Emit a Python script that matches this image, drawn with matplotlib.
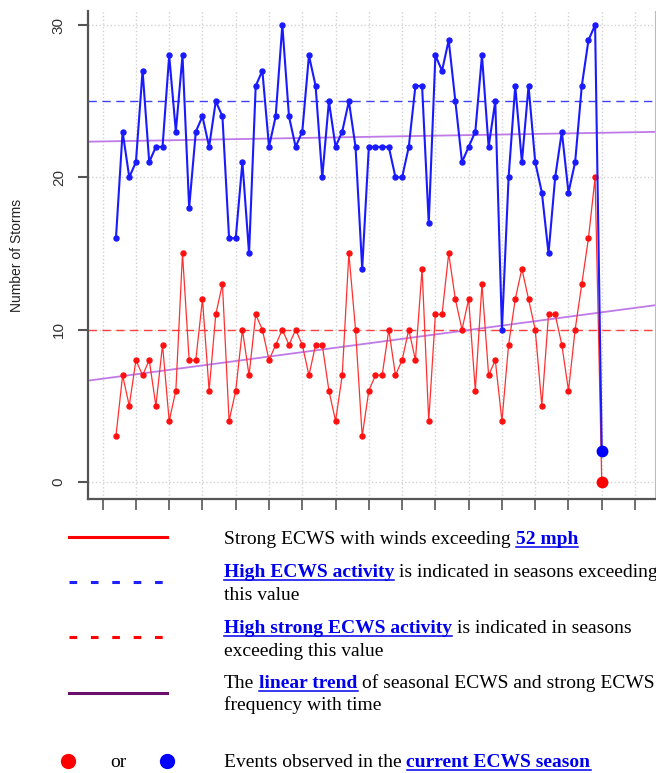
import numpy as np
import matplotlib
matplotlib.use("Agg")
import matplotlib.pyplot as plt
from matplotlib.lines import Line2D

# =====================================================
# Data (one value per season, last one = current season)
# =====================================================

all_storms = [16, 23, 20, 21, 27, 21, 22, 22, 28, 23,
              28, 18, 23, 24, 22, 25, 24, 16, 16, 21,
              15, 26, 27, 22, 24, 30, 24, 22, 23, 28,
              26, 20, 25, 22, 23, 25, 22, 14, 22, 22,
              22, 22, 20, 20, 22, 26, 26, 17, 28, 27,
              29, 25, 21, 22, 23, 28, 22, 25, 10, 20,
              26, 21, 26, 21, 19, 15, 20, 23, 19, 21,
              26, 29, 30]
strong_storms = [3, 7, 5, 8, 7, 8, 5, 9, 4, 6,
                 15, 8, 8, 12, 6, 11, 13, 4, 6, 10,
                 7, 11, 10, 8, 9, 10, 9, 10, 9, 7,
                 9, 9, 6, 4, 7, 15, 10, 3, 6, 7,
                 7, 10, 7, 8, 10, 8, 14, 4, 11, 11,
                 15, 12, 10, 12, 6, 13, 7, 8, 4, 9,
                 12, 14, 12, 10, 5, 11, 11, 9, 6, 10,
                 13, 16, 20]
current_all = 2
current_strong = 0

high_activity = 25
high_strong_activity = 10

# =====================================================
# Figure
# =====================================================

W, H = 656, 773
fig = plt.figure(figsize=(W / 100, H / 100), dpi=100)
ax = fig.add_axes([88 / W, 1 - 499 / H, (655 - 88) / W, (499 - 11) / H])

n = len(all_storms)
x = np.arange(n)
x_all = np.arange(n + 1)

xmin, xmax = -4.2, 81.0
ax.set_xlim(xmin, xmax)
ax.set_ylim(-1.12, 30.92)

# trends
xt = np.array([xmin, xmax])
pa = np.polyfit(x, all_storms, 1)
ps = np.polyfit(x, strong_storms, 1)
ax.plot(xt, np.polyval(pa, xt), color="#c07ae8", lw=1.3, zorder=2)
ax.plot(xt, np.polyval(ps, xt), color="#c07ae8", lw=1.3, zorder=2)

# thresholds
ax.axhline(high_activity, color="#4040ff", lw=1.0, ls=(0, (6, 4)), zorder=1)
ax.axhline(high_strong_activity, color="#ff4040", lw=1.0, ls=(0, (6, 4)), zorder=1)

# series
ax.plot(x_all, strong_storms + [current_strong], color="#ff3030", lw=0.9,
        marker="o", ms=3.6, mec="#ff1010", mfc="#ff1010", zorder=3)
ax.plot(x_all, all_storms + [current_all], color="#1a1aff", lw=1.5,
        marker="o", ms=3.6, zorder=4)
ax.plot(n, current_all, "o", color="#0000ff", ms=7.5, zorder=5)
ax.plot(n, current_strong, "o", color="#ff0000", ms=7.5, zorder=5)

# axes styling
ax.set_xticks(np.arange(-2, 80, 5))
ax.set_yticks([0, 10, 20, 30])
ax.set_xticklabels([])
ax.grid(True, color="#d2d2d2", ls=":", lw=1.0)
ax.set_axisbelow(True)
ax.spines["top"].set_visible(False)
ax.spines["right"].set_color("#bbbbbb")
ax.spines["left"].set_color("#555555")
ax.spines["bottom"].set_color("#555555")
ax.spines["left"].set_linewidth(1.6)
ax.spines["bottom"].set_linewidth(1.6)
ax.tick_params(axis="y", length=7, width=1.5, color="#555555", pad=9,
               labelsize=11, labelcolor="#333333")
ax.tick_params(axis="x", length=8, width=1.2, color="#555555")
for lab in ax.get_yticklabels():
    lab.set_rotation(90)
    lab.set_va("center")
    lab.set_family("Liberation Sans")
ax.set_ylabel("Number of Storms", fontsize=10, family="Liberation Sans",
              color="#222222")
ax.yaxis.set_label_coords((24 - 88) / 567, 0.5)

# =====================================================
# Legend (html-like text under the chart)
# =====================================================

LINK = "#0000ee"
FS = 14
renderer = fig.canvas.get_renderer()


def px_w(s, bold=False):
    t = fig.text(0, 0, s, fontsize=FS, family="Liberation Serif",
                 weight="bold" if bold else "normal")
    w = t.get_window_extent(renderer).width
    t.remove()
    return w


SPACE = px_w("a a") - px_w("aa")


def rich_line(x0, base, pieces):
    xp = x0
    for i, (txt, link) in enumerate(pieces):
        if i > 0:
            xp += SPACE
        t = fig.text(xp / W, 1 - base / H, txt, fontsize=FS,
                     family="Liberation Serif", va="baseline",
                     weight="bold" if link else "normal",
                     color=LINK if link else "black")
        w = t.get_window_extent(renderer).width
        if link:
            fig.add_artist(Line2D([xp / W, (xp + w) / W],
                                  [1 - (base + 3) / H] * 2,
                                  transform=fig.transFigure,
                                  color=LINK, lw=1.1))
        xp += w


def sample(y, color, ls, lw=2.2):
    fig.add_artist(Line2D([69 / W, 167 / W], [1 - y / H] * 2,
                          transform=fig.transFigure, color=color, ls=ls, lw=lw))


TX = 224
DASH = (0, (2.5, 4.5))
sample(537, "#ff0000", "-")
rich_line(TX, 544, [("Strong ECWS with winds exceeding", False), ("52 mph", True)])

sample(582, "#2020ff", DASH)
rich_line(TX, 577, [("High ECWS activity", True),
                    ("is indicated in seasons exceeding", False)])
rich_line(TX, 600, [("this value", False)])

sample(637, "#ff0000", DASH)
rich_line(TX, 633, [("High strong ECWS activity", True),
                    ("is indicated in seasons", False)])
rich_line(TX, 656, [("exceeding this value", False)])

sample(693, "#6a0f6a", "-")
rich_line(TX, 688, [("The", False), ("linear trend", True),
                    ("of seasonal ECWS and strong ECWS", False)])
rich_line(TX, 710, [("frequency with time", False)])

fig.add_artist(Line2D([68 / W], [1 - 761 / H], transform=fig.transFigure,
                      marker="o", ms=10, color="#ff0000", ls="none"))
fig.add_artist(Line2D([167 / W], [1 - 761 / H], transform=fig.transFigure,
                      marker="o", ms=10, color="#0000ff", ls="none"))
fig.text(118 / W, 1 - 767 / H, "or", fontsize=FS, family="Liberation Serif",
         va="baseline", ha="center")
rich_line(TX, 767, [("Events observed in the", False), ("current ECWS season", True)])

fig.savefig("out.png", dpi=100)
